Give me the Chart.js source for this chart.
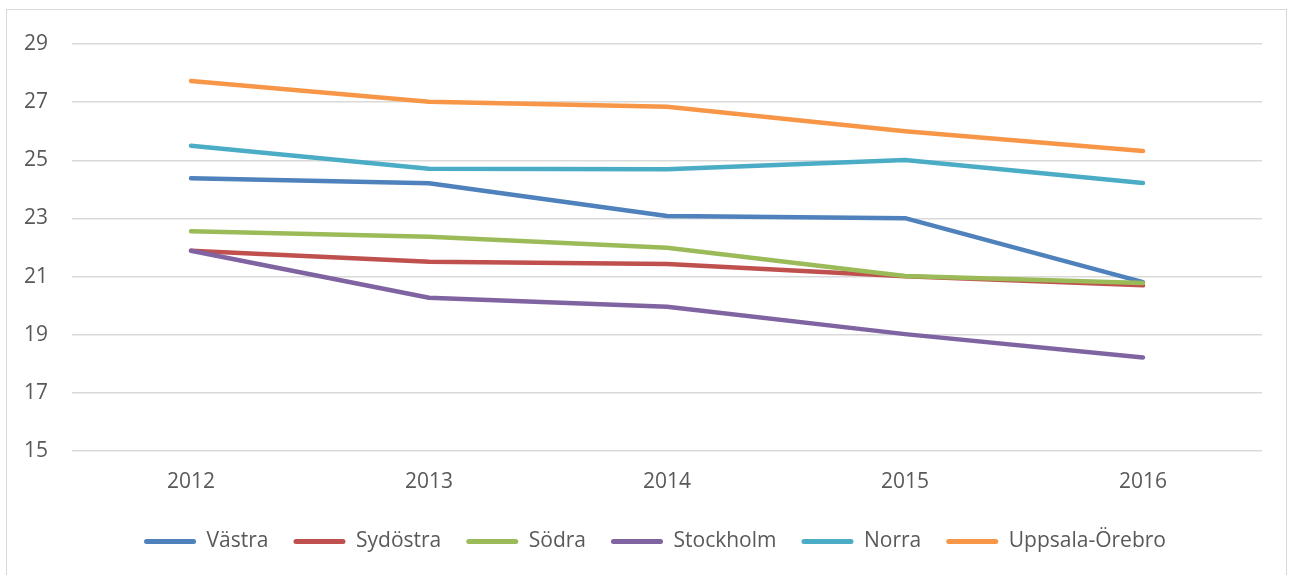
<!DOCTYPE html>
<html>
<head>
<meta charset="utf-8">
<script src="https://cdn.jsdelivr.net/npm/chart.js@4/dist/chart.umd.min.js"></script>
<style>
  html, body { margin: 0; padding: 0; background: #ffffff; overflow: hidden; }
  #frame { position: absolute; left: 6px; top: 9px; width: 1281px; height: 620px; border: 1px solid #d9d9d9; box-sizing: border-box; }
  #wrap { position: absolute; left: 0; top: 0; width: 1297px; height: 575px; }
</style>
</head>
<body>
<div id="frame"></div>
<div id="wrap"><canvas id="c" width="1297" height="575"></canvas></div>
<script>
const years = ['2012', '2013', '2014', '2015', '2016'];
const seriesNames = ['Västra', 'Sydöstra', 'Södra', 'Stockholm', 'Norra', 'Uppsala-Örebro'];
const vastra    = [24.38, 24.21, 23.08, 23.01, 20.81];
const sydostra  = [21.89, 21.51, 21.43, 21.01, 20.70];
const sodra     = [22.56, 22.37, 21.99, 21.02, 20.78];
const stockholm = [21.89, 20.27, 19.96, 19.02, 18.22];
const norra     = [25.50, 24.71, 24.69, 25.01, 24.22];
const uppsala   = [27.73, 27.01, 26.84, 26.00, 25.32];
const yTicks = [15, 17, 19, 21, 23, 25, 27, 29];

const seriesValues = [vastra, sydostra, sodra, stockholm, norra, uppsala];
const colors = ['#4F81BD', '#C0504D', '#9BBB59', '#8064A2', '#4BACC6', '#F79646'];

const FONT = '"Open Sans", "Liberation Sans", sans-serif';
const TEXT = '#595959';

const datasets = seriesNames.map((name, i) => ({
  label: name,
  data: seriesValues[i],
  borderColor: colors[i],
  backgroundColor: colors[i],
  borderWidth: 4.5,
  borderCapStyle: 'round',
  borderJoinStyle: 'round',
  pointRadius: 0,
  pointHoverRadius: 0,
  tension: 0,
  fill: false,
  order: seriesNames.length - i
}));

const shiftLegend = {
  id: 'shiftLegend',
  afterUpdate(chart) {
    const lg = chart.legend;
    if (lg) { lg.left += 24; lg.right += 24; }
  }
};

new Chart(document.getElementById('c'), {
  type: 'line',
  data: { labels: years, datasets },
  plugins: [shiftLegend],
  options: {
    responsive: false,
    animation: false,
    events: [],
    layout: { padding: { top: 44, right: 35, bottom: 13, left: 0 } },
    plugins: {
      tooltip: { enabled: false },
      legend: {
        position: 'bottom',
        labels: {
          font: { family: FONT, size: 21 },
          color: TEXT,
          boxWidth: 52,
          boxHeight: 5,
          padding: 25,
          useBorderRadius: true,
          borderRadius: 2.5,
          sort: (a, b) => a.datasetIndex - b.datasetIndex,
          generateLabels: (chart) => chart.data.datasets.map((ds, i) => ({
            text: ds.label,
            fillStyle: ds.borderColor,
            strokeStyle: ds.borderColor,
            lineWidth: 0,
            hidden: false,
            datasetIndex: i,
            fontColor: TEXT,
            borderRadius: 2.5
          }))
        }
      }
    },
    scales: {
      x: {
        offset: true,
        grid: { display: false, drawTicks: false },
        border: { display: false },
        ticks: { font: { family: FONT, size: 21 }, color: TEXT, padding: 18, maxRotation: 0 },
        afterFit: (s) => { s.height = 55; }
      },
      y: {
        min: 15,
        max: 29,
        afterBuildTicks: (s) => { s.ticks = yTicks.map(v => ({ value: v })); },
        grid: { color: '#d9d9d9', lineWidth: 1.5, drawTicks: false },
        border: { display: false },
        ticks: { font: { family: FONT, size: 21 }, color: TEXT, padding: 24 },
        afterFit: (s) => { s.width = 72; }
      }
    }
  }
});
</script>
</body>
</html>
